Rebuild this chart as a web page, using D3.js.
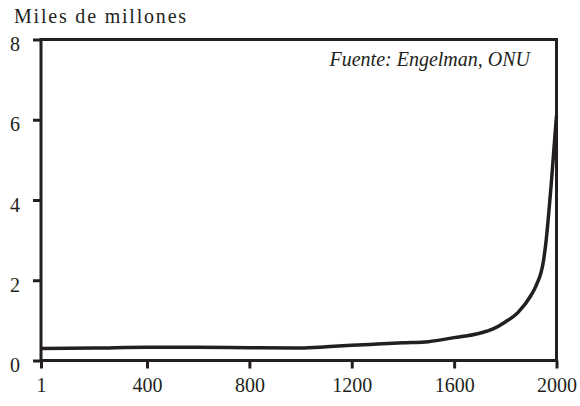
<!DOCTYPE html>
<html>
<head>
<meta charset="utf-8">
<script src="https://cdn.jsdelivr.net/npm/d3@7"></script>
</head>
<body style="margin:0;background:#fff">
<svg id="chart" width="580" height="406" style="display:block"></svg>
<script>
// Data (world population, thousands of millions)
const years  = [1, 200, 400, 600, 800, 1000, 1100, 1200, 1300, 1400, 1500, 1600, 1700, 1750, 1800, 1850, 1900, 1920, 1950, 1960, 1970, 1980, 1990, 2000];
const values = [0.30, 0.31, 0.33, 0.33, 0.32, 0.31, 0.34, 0.38, 0.41, 0.44, 0.47, 0.57, 0.68, 0.78, 0.96, 1.20, 1.62, 1.86, 2.52, 3.02, 3.70, 4.44, 5.28, 6.10];
const xTicks = [1, 400, 800, 1200, 1600, 2000];
const yTicks = [0, 2, 4, 6, 8];
const yTitle = "Miles de millones";
const source = "Fuente: Engelman, ONU";

const ink = "#231f20";
const font = "'Liberation Serif'";
const svg = d3.select("#chart");

const x = d3.scaleLinear().domain([1, 400, 2000]).range([41, 147, 556.5]);
const y = d3.scaleLinear().domain([0, 8]).range([360.5, 39.5]);

// Y axis (ticks + labels)
const gy = svg.append("g").attr("transform", `translate(${x(1)},0)`)
  .call(d3.axisLeft(y).tickValues(yTicks).tickSize(8).tickPadding(13).tickFormat(d3.format("d")));
gy.attr("font-family", null).attr("font-size", null);
gy.select(".domain").remove();
gy.selectAll(".tick line").attr("stroke", ink).attr("stroke-width", 3);
gy.selectAll(".tick text").style("font-family", font).style("font-size", "20px").attr("fill", ink).attr("dy", "0.55em");

// X axis
const gx = svg.append("g").attr("transform", `translate(0,${y(0)})`)
  .call(d3.axisBottom(x).tickValues(xTicks).tickSize(8).tickPadding(9).tickFormat(d3.format("d")));
gx.attr("font-family", null).attr("font-size", null);
gx.select(".domain").remove();
gx.selectAll(".tick line").attr("stroke", ink).attr("stroke-width", 3);
gx.selectAll(".tick text").style("font-family", font).style("font-size", "20px").attr("fill", ink);

// Frame
svg.append("rect")
  .attr("x", x(1)).attr("y", y(8))
  .attr("width", x(2000) - x(1)).attr("height", y(0) - y(8))
  .attr("fill", "none").attr("stroke", ink).attr("stroke-width", 3);

// Line
const pts = years.map((yr, i) => [yr, values[i]]);
svg.append("path")
  .datum(pts)
  .attr("fill", "none")
  .attr("stroke", ink)
  .attr("stroke-width", 3.5)
  .attr("stroke-linejoin", "round")
  .attr("d", d3.line().x(d => x(d[0])).y(d => y(d[1])).curve(d3.curveMonotoneX));

// Titles
svg.append("text")
  .attr("x", 14).attr("y", 23)
  .style("font-family", font).style("font-size", "20px")
  .style("letter-spacing", "1.8px")
  .attr("fill", ink)
  .text(yTitle);

svg.append("text")
  .attr("x", 530).attr("y", 66)
  .attr("text-anchor", "end")
  .style("font-family", font).style("font-size", "20px")
  .style("font-style", "italic")
  .attr("fill", ink)
  .text(source);
</script>
</body>
</html>
